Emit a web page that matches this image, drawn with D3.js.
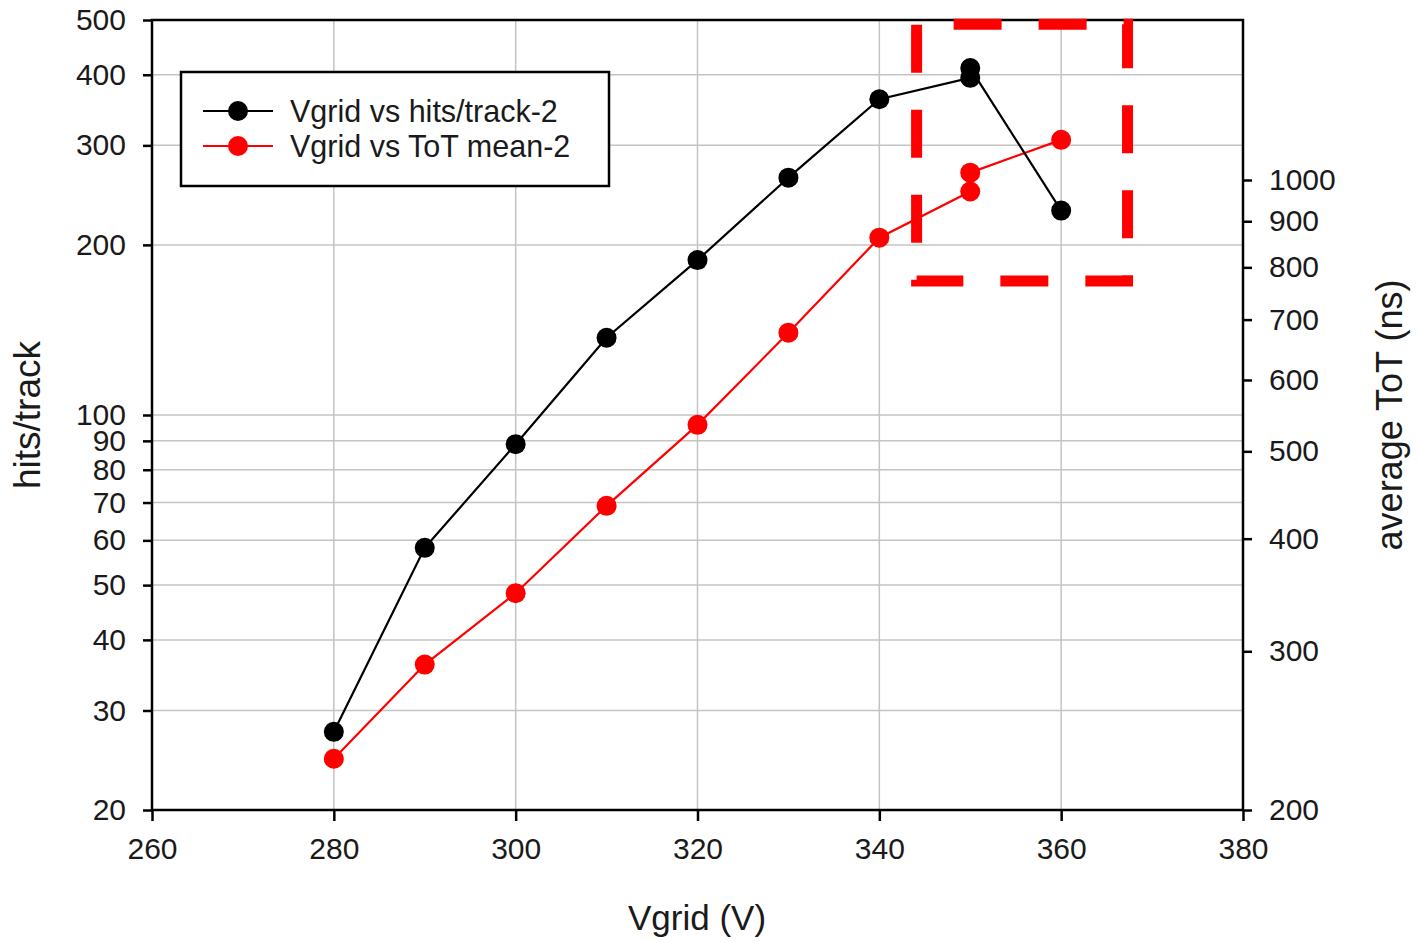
<!DOCTYPE html>
<html>
<head>
<meta charset="utf-8">
<script src="https://cdn.jsdelivr.net/npm/d3@7"></script>
<style>
  html, body { margin: 0; padding: 0; background: #fff; }
  svg { display: block; font-family: "Liberation Sans", Arial, sans-serif; }
</style>
</head>
<body>
<svg id="chart" width="1418" height="942"></svg>
<script>
// Grid voltage scan: hits per track (left log axis) and mean ToT (right log axis)
const vgrid      = [280, 290, 300, 310, 320, 330, 340, 350, 350, 360];
const hitsTrack  = [27.5, 58.2, 88.8, 137, 188, 263, 362, 395, 411, 230];
const vgridTot   = [280, 290, 300, 310, 320, 330, 340, 350, 350, 360];
const totMean    = [228, 290, 348, 435, 535, 677, 863, 971, 1019, 1108];

const xTicks     = [260, 280, 300, 320, 340, 360, 380];
const leftTicks  = [20, 30, 40, 50, 60, 70, 80, 90, 100, 200, 300, 400, 500];
const leftGrid   = [30, 40, 50, 60, 70, 80, 90, 100, 200, 300, 400];
const rightTicks = [200, 300, 400, 500, 600, 700, 800, 900, 1000];
const xGrid      = [280, 300, 320, 340, 360];

const seriesNames = ["Vgrid vs hits/track-2", "Vgrid vs ToT mean-2"];
const seriesColors = ["#000000", "#ff0000"];

// highlighted region (data units: Vgrid on x, hits/track on y)
const boxX = [344.1, 367.3];
const boxY = [172.6, 491.6];

const svg = d3.select("#chart");
const plot = { left: 152, right: 1243, top: 20, bottom: 810 };

const x = d3.scaleLinear().domain([260, 380]).range([plot.left, plot.right]);
const yL = d3.scaleLog().domain([20, 500]).range([plot.bottom, plot.top]);
// right axis: 200 at the bottom, top value chosen so that 1000 sits at y = 180
const rightTop = 200 * Math.pow(10, (plot.bottom - plot.top) / ((plot.bottom - 180) / Math.log10(5)));
const yR = d3.scaleLog().domain([200, rightTop]).range([plot.bottom, plot.top]);

// gridlines
const grid = svg.append("g").attr("stroke", "#c4c4c4").attr("stroke-width", 1.5);
grid.selectAll("line.h").data(leftGrid).join("line")
  .attr("x1", plot.left).attr("x2", plot.right)
  .attr("y1", d => yL(d)).attr("y2", d => yL(d));
grid.selectAll("line.v").data(xGrid).join("line")
  .attr("y1", plot.top).attr("y2", plot.bottom)
  .attr("x1", d => x(d)).attr("x2", d => x(d));

// axes
const fs = 30;
function styleAxis(g) {
  g.select(".domain").remove();
  g.selectAll(".tick line").attr("stroke", "#000").attr("stroke-width", 2.5);
  g.selectAll(".tick text").attr("fill", "#1a1a1a").attr("font-size", fs)
    .attr("font-family", "Liberation Sans, Arial, sans-serif");
}
const gx = svg.append("g").attr("transform", `translate(0,${plot.bottom})`)
  .call(d3.axisBottom(x).tickValues(xTicks).tickFormat(d3.format("d")).tickSize(11).tickPadding(17));
styleAxis(gx);

const gl = svg.append("g").attr("transform", `translate(${plot.left},0)`)
  .call(d3.axisLeft(yL).tickValues(leftTicks).tickFormat(d3.format("d")).tickSize(9).tickPadding(17));
styleAxis(gl);

const gr = svg.append("g").attr("transform", `translate(${plot.right},0)`)
  .call(d3.axisRight(yR).tickValues(rightTicks).tickFormat(d3.format("d")).tickSize(9).tickPadding(17));
styleAxis(gr);

// frame
svg.append("rect")
  .attr("x", plot.left).attr("y", plot.top)
  .attr("width", plot.right - plot.left).attr("height", plot.bottom - plot.top)
  .attr("fill", "none").attr("stroke", "#000").attr("stroke-width", 2.5);

// series
const hitsData = vgrid.map((v, i) => [v, hitsTrack[i]]);
const totData = vgridTot.map((v, i) => [v, totMean[i]]);

function drawSeries(data, yScale, color) {
  const g = svg.append("g");
  g.append("path").datum(data)
    .attr("fill", "none").attr("stroke", color).attr("stroke-width", 2.2)
    .attr("d", d3.line().x(d => x(d[0])).y(d => yScale(d[1])));
  g.selectAll("circle").data(data).join("circle")
    .attr("cx", d => x(d[0])).attr("cy", d => yScale(d[1]))
    .attr("r", 10).attr("fill", color);
}
drawSeries(totData, yR, seriesColors[1]);
drawSeries(hitsData, yL, seriesColors[0]);

// highlighted region
const bx0 = x(boxX[0]), bx1 = x(boxX[1]), by0 = yL(boxY[1]), by1 = yL(boxY[0]);
svg.append("rect")
  .attr("x", bx0).attr("y", by0).attr("width", bx1 - bx0).attr("height", by1 - by0)
  .attr("fill", "none").attr("stroke", "#ff0000").attr("stroke-width", 11)
  .attr("stroke-dasharray", "48,37").attr("stroke-dashoffset", 48);

// legend
const leg = svg.append("g");
leg.append("rect").attr("x", 181).attr("y", 72).attr("width", 428).attr("height", 114)
  .attr("fill", "#fff").attr("stroke", "#000").attr("stroke-width", 2.5);
seriesNames.forEach((name, i) => {
  const yy = 111 + i * 35;
  leg.append("line").attr("x1", 203).attr("x2", 273).attr("y1", yy).attr("y2", yy)
    .attr("stroke", seriesColors[i]).attr("stroke-width", 2.2);
  leg.append("circle").attr("cx", 238).attr("cy", yy).attr("r", 10).attr("fill", seriesColors[i]);
  leg.append("text").attr("x", 290).attr("y", yy).attr("dy", "0.36em")
    .attr("font-size", 30.5).attr("fill", "#1a1a1a").text(name);
});

// axis titles
svg.append("text").attr("x", 697).attr("y", 930).attr("text-anchor", "middle")
  .attr("font-size", 35).attr("fill", "#1a1a1a").text("Vgrid (V)");
svg.append("text").attr("transform", "translate(40,415) rotate(-90)").attr("text-anchor", "middle")
  .attr("font-size", 37).attr("fill", "#1a1a1a").text("hits/track");
svg.append("text").attr("transform", "translate(1402,415) rotate(-90)").attr("text-anchor", "middle")
  .attr("font-size", 36).attr("fill", "#1a1a1a").text("average ToT (ns)");
</script>
</body>
</html>
